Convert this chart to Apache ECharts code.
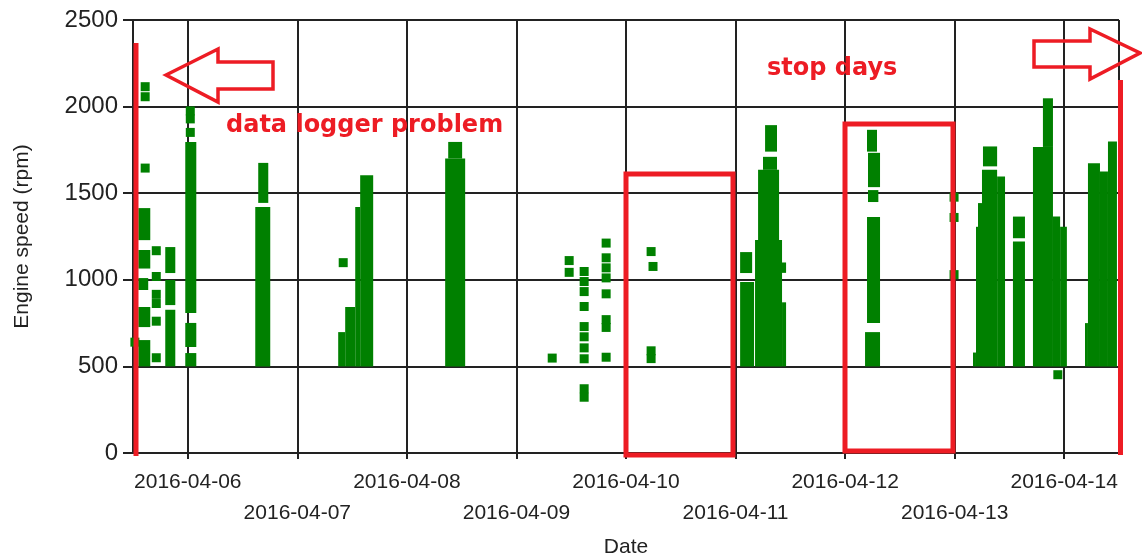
<!DOCTYPE html>
<html>
<head>
<meta charset="utf-8">
<title>Engine speed vs date</title>
<script src="https://cdn.jsdelivr.net/npm/echarts@6/dist/echarts.min.js"></script>
<style>
  html, body { margin: 0; padding: 0; background: #fff; }
  #chart { width: 1142px; height: 558px; }
</style>
</head>
<body>
<div id="chart"></div>
<script>
// dense logging runs: [start, end, lowest rpm, highest rpm]
const denseRuns = [
  ['2016-04-05 13:10', '2016-04-05 15:47', 1229, 1414],
  ['2016-04-05 13:10', '2016-04-05 15:47', 1065, 1172],
  ['2016-04-05 13:10', '2016-04-05 15:20', 941, 1010],
  ['2016-04-05 13:10', '2016-04-05 15:47', 727, 843],
  ['2016-04-05 13:10', '2016-04-05 15:47', 500, 652],
  ['2016-04-05 19:04', '2016-04-05 21:16', 1039, 1189],
  ['2016-04-05 19:04', '2016-04-05 21:16', 854, 999],
  ['2016-04-05 19:04', '2016-04-05 21:16', 500, 827],
  ['2016-04-05 23:27', '2016-04-06 01:52', 808, 1796],
  ['2016-04-05 23:27', '2016-04-06 01:52', 612, 751],
  ['2016-04-05 23:27', '2016-04-06 01:52', 500, 577],
  ['2016-04-06 15:26', '2016-04-06 17:38', 1444, 1675],
  ['2016-04-06 14:47', '2016-04-06 18:04', 500, 1420],
  ['2016-04-07 08:57', '2016-04-07 10:29', 500, 698],
  ['2016-04-07 10:29', '2016-04-07 12:41', 500, 843],
  ['2016-04-07 12:41', '2016-04-07 13:46', 500, 1420],
  ['2016-04-07 13:46', '2016-04-07 16:37', 500, 1604],
  ['2016-04-08 08:23', '2016-04-08 12:46', 500, 1700],
  ['2016-04-08 09:03', '2016-04-08 12:06', 1700, 1796],
  ['2016-04-11 01:00', '2016-04-11 03:38', 1039, 1160],
  ['2016-04-11 01:00', '2016-04-11 04:03', 500, 987],
  ['2016-04-11 06:28', '2016-04-11 09:05', 1740, 1893],
  ['2016-04-11 06:01', '2016-04-11 09:05', 1635, 1710],
  ['2016-04-11 04:56', '2016-04-11 09:32', 1230, 1635],
  ['2016-04-11 04:16', '2016-04-11 10:11', 500, 1230],
  ['2016-04-11 10:11', '2016-04-11 11:04', 500, 870],
  ['2016-04-11 09:32', '2016-04-11 11:04', 1040, 1100],
  ['2016-04-12 04:48', '2016-04-12 06:59', 1740, 1866],
  ['2016-04-12 05:01', '2016-04-12 07:39', 1535, 1733],
  ['2016-04-12 05:01', '2016-04-12 07:17', 1449, 1518],
  ['2016-04-12 04:48', '2016-04-12 07:39', 750, 1362],
  ['2016-04-12 04:22', '2016-04-12 07:39', 500, 698],
  ['2016-04-13 06:12', '2016-04-13 09:18', 1655, 1770],
  ['2016-04-13 05:59', '2016-04-13 09:18', 500, 1635],
  ['2016-04-13 09:18', '2016-04-13 11:02', 500, 1596],
  ['2016-04-13 05:07', '2016-04-13 05:59', 500, 1443],
  ['2016-04-13 04:40', '2016-04-13 05:07', 500, 1306],
  ['2016-04-13 04:01', '2016-04-13 04:40', 500, 580],
  ['2016-04-13 12:46', '2016-04-13 15:24', 1240, 1365],
  ['2016-04-13 12:46', '2016-04-13 15:24', 500, 1221],
  ['2016-04-13 19:20', '2016-04-13 21:32', 1767, 2048],
  ['2016-04-13 17:09', '2016-04-13 21:32', 500, 1767],
  ['2016-04-13 21:32', '2016-04-13 23:06', 500, 1365],
  ['2016-04-13 23:06', '2016-04-14 00:35', 500, 1307],
  ['2016-04-14 04:33', '2016-04-14 05:12', 500, 750],
  ['2016-04-14 05:12', '2016-04-14 07:50', 500, 1673],
  ['2016-04-14 07:50', '2016-04-14 09:35', 500, 1625],
  ['2016-04-14 09:35', '2016-04-14 11:33', 500, 1798]
];

// single readings: [time, rpm]
const singleReadings = [
  ['2016-04-05 14:40', 2115], ['2016-04-05 14:40', 2057], ['2016-04-05 14:40', 1645],
  ['2016-04-05 12:25', 640],
  ['2016-04-05 17:06', 1168], ['2016-04-05 17:06', 1019], ['2016-04-05 17:06', 916],
  ['2016-04-05 17:06', 863], ['2016-04-05 17:06', 761], ['2016-04-05 17:06', 550],
  ['2016-04-06 00:33', 1975], ['2016-04-06 00:33', 1929], ['2016-04-06 00:33', 1851],
  ['2016-04-07 10:03', 1099],
  ['2016-04-09 07:50', 548],
  ['2016-04-09 11:33', 1111], ['2016-04-09 11:33', 1043],
  ['2016-04-09 14:50', 1048], ['2016-04-09 14:50', 990], ['2016-04-09 14:50', 932],
  ['2016-04-09 14:50', 846], ['2016-04-09 14:50', 730], ['2016-04-09 14:50', 671],
  ['2016-04-09 14:50', 607], ['2016-04-09 14:50', 544], ['2016-04-09 14:50', 371],
  ['2016-04-09 14:50', 322],
  ['2016-04-09 19:39', 1212], ['2016-04-09 19:39', 1127], ['2016-04-09 19:39', 1069],
  ['2016-04-09 19:39', 1011], ['2016-04-09 19:39', 919], ['2016-04-09 19:39', 770],
  ['2016-04-09 19:39', 725], ['2016-04-09 19:39', 553],
  ['2016-04-10 05:30', 1163], ['2016-04-10 05:55', 1077], ['2016-04-10 05:30', 590],
  ['2016-04-10 05:30', 545],
  ['2016-04-12 23:52', 1477], ['2016-04-12 23:52', 1360], ['2016-04-12 23:52', 1030],
  ['2016-04-13 22:36', 452]
];

const xRange = ['2016-04-05 12:00', '2016-04-14 12:00'];
const yTicks = [0, 500, 1000, 1500, 2000, 2500];

const GREEN = '#008000';
const RED = '#ed1c24';
const INK = '#222';
const FONT = '"Liberation Sans", Arial, sans-serif';
const NOTE_FONT = '"DejaVu Sans", sans-serif';
const DAY = 24 * 3600 * 1000;

function toTime(s) {
  const [d, t] = s.split(' ');
  const [y, m, day] = d.split('-').map(Number);
  const [h, min] = t.split(':').map(Number);
  return new Date(y, m - 1, day, h, min).getTime();
}

const pad = n => String(n).padStart(2, '0');

const chart = echarts.init(document.getElementById('chart'));

const option = {
  animation: false,
  backgroundColor: '#fff',
  grid: { left: 133, right: 23, top: 20, bottom: 105, containLabel: false, outerBoundsMode: 'none' },
  xAxis: {
    type: 'time',
    min: toTime(xRange[0]),
    max: toTime(xRange[1]),
    minInterval: DAY,
    maxInterval: DAY,
    splitNumber: 9,
    name: 'Date',
    nameLocation: 'middle',
    nameGap: 84,
    nameTextStyle: { color: INK, fontSize: 21, fontFamily: FONT },
    axisLine: { lineStyle: { color: INK, width: 2 } },
    axisTick: { show: true, length: 6, lineStyle: { color: INK, width: 2 } },
    axisLabel: {
      interval: 0,
      hideOverlap: false,
      margin: 14,
      fontSize: 21,
      lineHeight: 31,
      color: INK,
      fontFamily: FONT,
      formatter: (value) => {
        const d = new Date(value);
        const s = `${d.getFullYear()}-${pad(d.getMonth() + 1)}-${pad(d.getDate())}`;
        // odd days drop to the second row
        return d.getDate() % 2 ? '\n' + s : s;
      }
    },
    splitLine: { show: true, lineStyle: { color: INK, width: 2 } }
  },
  yAxis: {
    type: 'value',
    min: yTicks[0],
    max: yTicks[yTicks.length - 1],
    interval: 500,
    name: 'Engine speed (rpm)',
    nameLocation: 'middle',
    nameGap: 100,
    nameTextStyle: { color: INK, fontSize: 21, fontFamily: FONT },
    axisLine: { show: true, lineStyle: { color: INK, width: 2 } },
    axisTick: { show: true, length: 10, lineStyle: { color: INK, width: 2 } },
    axisLabel: { margin: 15, fontSize: 24, color: INK, fontFamily: FONT, formatter: v => String(v) },
    splitLine: { show: true, lineStyle: { color: INK, width: 2 } }
  },
  series: [
    {
      type: 'custom',
      silent: true,
      clip: true,
      dimensions: [
        { name: 'start', type: 'time' },
        { name: 'end', type: 'time' },
        'low',
        'high'
      ],
      encode: { x: [0, 1], y: [2, 3] },
      data: denseRuns.map(([s, e, lo, hi]) => [toTime(s), toTime(e), lo, hi]),
      renderItem: (params, api) => {
        const tl = api.coord([api.value(0), api.value(3)]);
        const br = api.coord([api.value(1), api.value(2)]);
        return {
          type: 'rect',
          shape: { x: tl[0], y: tl[1], width: br[0] - tl[0], height: br[1] - tl[1] },
          style: { fill: GREEN }
        };
      }
    },
    {
      type: 'scatter',
      silent: true,
      symbol: 'rect',
      symbolSize: 9,
      itemStyle: { color: GREEN, opacity: 1 },
      data: singleReadings.map(([t, v]) => [toTime(t), v])
    }
  ],
  graphic: [
    // red marks drawn over the plot
    { type: 'rect', z: 100, shape: { x: 133.5, y: 43, width: 5, height: 413 }, style: { fill: RED } },
    { type: 'rect', z: 100, shape: { x: 1118, y: 80, width: 5, height: 375 }, style: { fill: RED } },
    {
      type: 'polygon', z: 100,
      shape: { points: [[166, 75], [218, 49], [218, 62], [273, 62], [273, 89], [218, 89], [218, 102]] },
      style: { fill: 'none', stroke: RED, lineWidth: 3.5 }
    },
    {
      type: 'polygon', z: 100,
      shape: { points: [[1034, 41], [1090, 41], [1090, 29], [1140, 53], [1090, 79], [1090, 67], [1034, 67]] },
      style: { fill: 'none', stroke: RED, lineWidth: 3.5 }
    },
    { type: 'rect', z: 100, shape: { x: 626, y: 174, width: 107, height: 281 }, style: { fill: 'none', stroke: RED, lineWidth: 5 } },
    { type: 'rect', z: 100, shape: { x: 845, y: 124, width: 108, height: 327 }, style: { fill: 'none', stroke: RED, lineWidth: 5 } },
    {
      type: 'text', z: 100, x: 226, y: 126,
      style: { text: 'data logger problem', fill: RED, fontSize: 24, fontWeight: 'bold', fontFamily: NOTE_FONT, verticalAlign: 'middle' }
    },
    {
      type: 'text', z: 100, x: 767, y: 69,
      style: { text: 'stop days', fill: RED, fontSize: 24, fontWeight: 'bold', fontFamily: NOTE_FONT, verticalAlign: 'middle' }
    }
  ]
};

chart.setOption(option);
</script>
</body>
</html>
